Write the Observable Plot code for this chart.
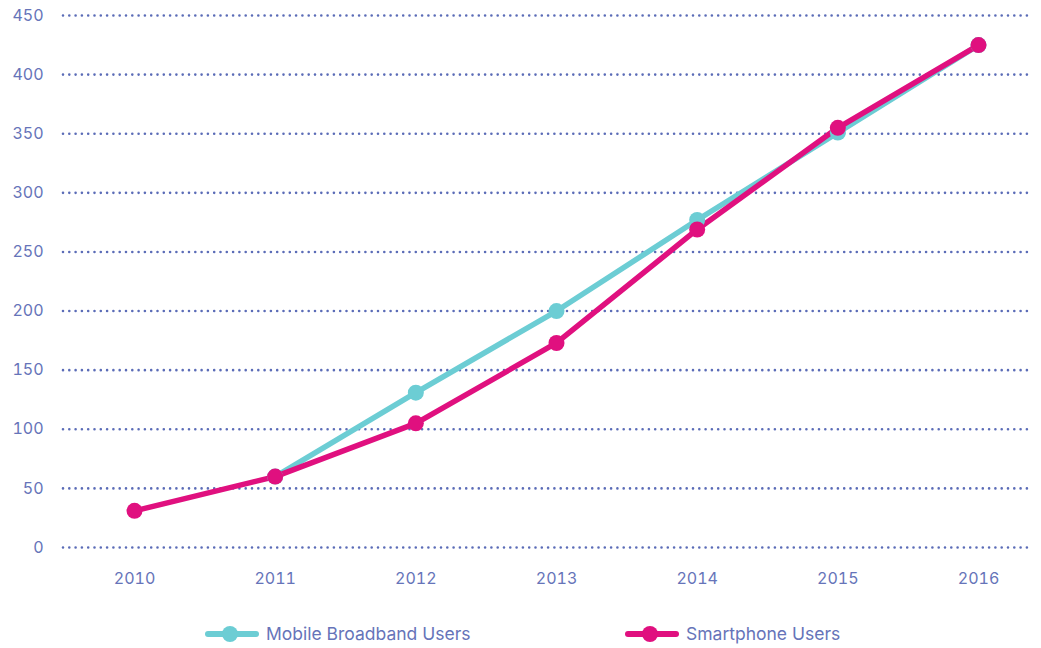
<!DOCTYPE html>
<html>
<head>
<meta charset="utf-8">
<script src="https://cdn.jsdelivr.net/npm/d3@7"></script>
<script src="https://cdn.jsdelivr.net/npm/@observablehq/plot@0.6"></script>
<style>
  body { margin: 0; background: #fff; font-family: Inter, "Open Sans", sans-serif; }
  #legend { position: relative; height: 48px; color: #6674b9; font-size: 17.5px; }
  .item { position: absolute; top: 23px; display: flex; align-items: center; }
  .item svg { margin-right: 7px; }
</style>
</head>
<body>
<div id="chart"></div>
<div id="legend"></div>
<script>
const years = [2010, 2011, 2012, 2013, 2014, 2015, 2016];
const broadband = [null, 60, 131, 200, 277, 351, 425];
const smartphone = [31, 60, 105, 173, 269, 355, 425];
const yTicks = [0, 50, 100, 150, 200, 250, 300, 350, 400, 450];
const seriesNames = ["Mobile Broadband Users", "Smartphone Users"];
const seriesColors = ["#6ccdd4", "#e0107f"];

const rows = [];
years.forEach((yr, i) => {
  if (broadband[i] != null) rows.push({year: yr, value: broadband[i], series: seriesNames[0]});
});
years.forEach((yr, i) => {
  if (smartphone[i] != null) rows.push({year: yr, value: smartphone[i], series: seriesNames[1]});
});

const chart = Plot.plot({
  width: 1041,
  height: 600,
  marginTop: 15,
  marginBottom: 53,
  marginLeft: 63,
  marginRight: 11,
  style: {fontFamily: "Inter, 'Open Sans', sans-serif", fontSize: "16px", color: "#6674b9"},
  x: {type: "linear", domain: [2010, 2016], insetLeft: 71, insetRight: 52, ticks: years, tickFormat: d => String(d), label: null},
  y: {domain: [0, 450], ticks: yTicks, label: null},
  color: {domain: seriesNames, range: seriesColors},
  marks: [
    Plot.gridY(yTicks, {stroke: "#5b6cb7", strokeOpacity: 1, strokeWidth: 2.6, strokeDasharray: "0,6.3", strokeLinecap: "round"}),
    Plot.axisY(yTicks, {tickSize: 0, tickPadding: 20, fill: "#6674b9", fontSize: 16, label: null}),
    Plot.axisX(years, {tickSize: 0, tickPadding: 25, fill: "#6674b9", fontSize: 16, tickFormat: d => String(d), label: null}),
    Plot.line(rows, {x: "year", y: "value", z: "series", stroke: "series", strokeWidth: 5.5}),
    Plot.dot(rows, {x: "year", y: "value", fill: "series", r: 8})
  ]
});
document.getElementById("chart").appendChild(chart);

const legend = document.getElementById("legend");
const lefts = [205, 625];
seriesNames.forEach((name, i) => {
  const d = document.createElement("div");
  d.className = "item";
  d.style.left = lefts[i] + "px";
  d.innerHTML = `<svg width="54" height="18"><line x1="3" y1="9" x2="51" y2="9" stroke="${seriesColors[i]}" stroke-width="6" stroke-linecap="round"/><circle cx="25" cy="9" r="8" fill="${seriesColors[i]}"/></svg><span>${name}</span>`;
  legend.appendChild(d);
});
</script>
</body>
</html>
